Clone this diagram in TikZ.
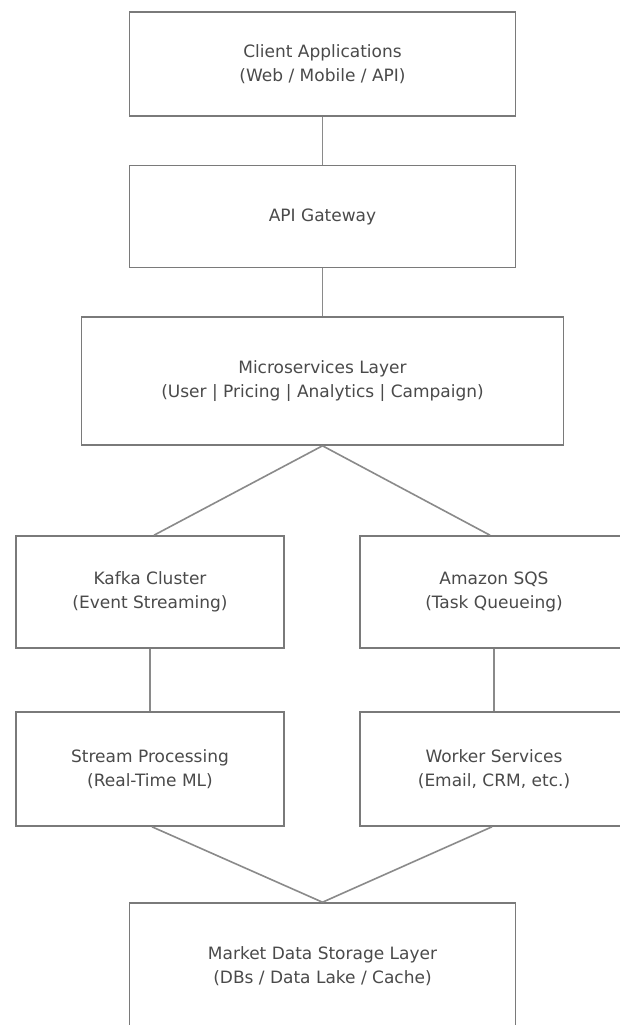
\documentclass[tikz,border=0pt]{standalone}
\usepackage{fontspec}
\setmainfont{DejaVu Sans}
\definecolor{boxline}{HTML}{7A7A7A}
\definecolor{conn}{HTML}{8A8A8A}
\definecolor{txt}{HTML}{4A4A4A}
\begin{document}
\begin{tikzpicture}[x=1pt,y=-1pt,
  blockbox/.style={draw=boxline, line width=1.6pt, fill=white, rectangle, align=center,
    text=txt, font=\fontsize{17}{24}\selectfont, inner sep=0pt},
  link/.style={draw=conn, line width=1.6pt}]
\useasboundingbox[fill=white] (0,0) rectangle (619,1025);
\node[blockbox, minimum width=386pt, minimum height=104pt] (client) at (322.5,64) {Client Applications\\(Web / Mobile / API)};
\node[blockbox, minimum width=386pt, minimum height=102pt] (gateway) at (322.5,216.5) {API Gateway};
\node[blockbox, minimum width=482pt, minimum height=128pt] (micro) at (322.5,381) {Microservices Layer\\(User | Pricing | Analytics | Campaign)};
\node[blockbox, minimum width=268pt, minimum height=112pt] (kafka) at (150,592) {Kafka Cluster\\(Event Streaming)};
\node[blockbox, minimum width=268pt, minimum height=112pt] (sqs) at (494,592) {Amazon SQS\\(Task Queueing)};
\node[blockbox, minimum width=268pt, minimum height=114pt] (stream) at (150,769) {Stream Processing\\(Real-Time ML)};
\node[blockbox, minimum width=268pt, minimum height=114pt] (worker) at (494,769) {Worker Services\\(Email, CRM, etc.)};
\node[blockbox, minimum width=386pt, minimum height=126pt] (market) at (322.5,966) {Market Data Storage Layer\\(DBs / Data Lake / Cache)};
\draw[link] (client.south) -- (gateway.north);
\draw[link] (gateway.south) -- (micro.north);
\draw[link] (micro.south) -- ([xshift=4pt]kafka.north);
\draw[link] (micro.south) -- ([xshift=-4pt]sqs.north);
\draw[link] (kafka.south) -- (stream.north);
\draw[link] (sqs.south) -- (worker.north);
\draw[link] ([xshift=2pt]stream.south) -- (market.north);
\draw[link] ([xshift=-2pt]worker.south) -- (market.north);
\end{tikzpicture}
\end{document}
